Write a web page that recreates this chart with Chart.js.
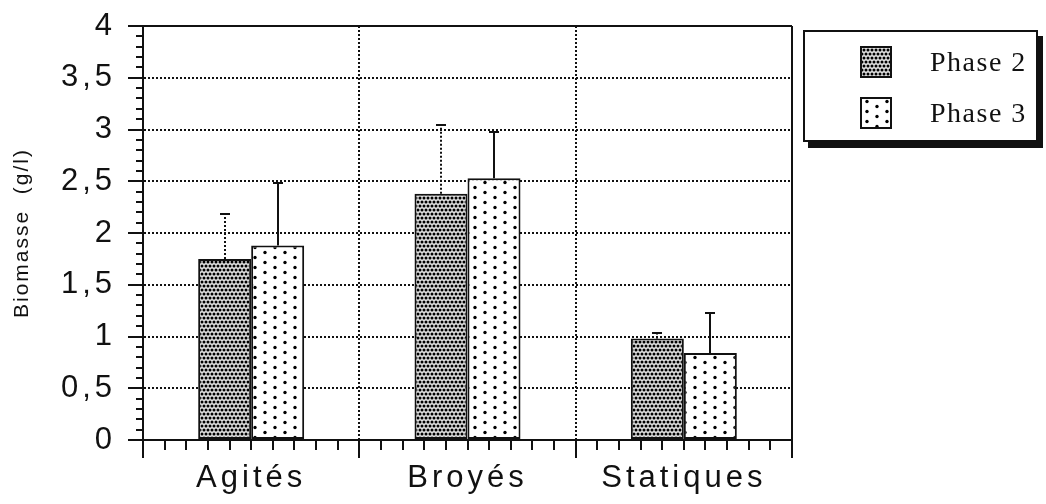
<!DOCTYPE html>
<html>
<head>
<meta charset="utf-8">
<script src="https://cdn.jsdelivr.net/npm/chart.js@4/dist/chart.umd.min.js"></script>
<style>
  html, body { margin: 0; padding: 0; background: #fff; }
  #wrap { position: relative; width: 1046px; height: 504px; }
  #c { position: absolute; left: 0; top: 0; }
  #legend {
    position: absolute; left: 803px; top: 30px; width: 235px; height: 112px;
    box-sizing: border-box; border: 2px solid #111; background: #fff;
    box-shadow: 5px 6px 0 #111;
  }
  .item { position: absolute; left: 55px; height: 30px; display: flex; align-items: center; }
  .item canvas { border: 2px solid #111; box-sizing: border-box; }
  .item span {
    font-family: "Liberation Serif", "DejaVu Serif", serif; font-size: 28px; color: #111;
    margin-left: 38px; letter-spacing: 1.5px;
  }
</style>
</head>
<body>
<div id="wrap">
  <canvas id="c" width="1046" height="504"></canvas>
  <div id="legend">
    <div class="item" style="top:15px"><canvas id="sw0" width="28" height="28"></canvas><span>Phase 2</span></div>
    <div class="item" style="top:66px"><canvas id="sw1" width="28" height="28"></canvas><span>Phase 3</span></div>
  </div>
</div>
<script>
// ---- data ----
const categories = ["Agités", "Broyés", "Statiques"];
const seriesNames = ["Phase 2", "Phase 3"];
const phase2 = [1.75, 2.38, 0.98];
const phase2Err = [0.43, 0.66, 0.05];
const phase3 = [1.88, 2.53, 0.84];
const phase3Err = [0.60, 0.45, 0.39];
const yTicks = [0, 0.5, 1, 1.5, 2, 2.5, 3, 3.5, 4];
const yTitle = "Biomasse  (g/l)";

// ---- patterns ----
function densePattern(ctx) {
  const t = document.createElement('canvas'); t.width = 8; t.height = 8;
  const g = t.getContext('2d');
  g.fillStyle = '#e0e0e0'; g.fillRect(0, 0, 8, 8);
  g.fillStyle = '#000';
  const pts = [[2,2],[6,2],[0,6],[4,6],[8,6]];
  pts.forEach(p => { g.beginPath(); g.arc(p[0], p[1], 1.5, 0, Math.PI*2); g.fill(); });
  return ctx.createPattern(t, 'repeat');
}
function sparsePattern(ctx) {
  const t = document.createElement('canvas'); t.width = 20; t.height = 10;
  const g = t.getContext('2d');
  g.fillStyle = '#fff'; g.fillRect(0, 0, 20, 10);
  g.fillStyle = '#000';
  const pts = [[5,2.5],[15,7.5]];
  pts.forEach(p => { g.beginPath(); g.arc(p[0], p[1], 1.7, 0, Math.PI*2); g.fill(); });
  return ctx.createPattern(t, 'repeat');
}

const canvas = document.getElementById('c');
const ctx = canvas.getContext('2d');
const pat2 = densePattern(ctx);
const pat3 = sparsePattern(ctx);

// legend swatches
[['sw0', densePattern], ['sw1', sparsePattern]].forEach(([id, fn]) => {
  const c = document.getElementById(id); const g = c.getContext('2d');
  g.fillStyle = fn(g); g.fillRect(0, 0, c.width, c.height);
});

const INK = '#111';
const FONT = "'Liberation Sans', Arial, sans-serif";

const decorPlugin = {
  id: 'decor',
  afterUpdate(chart) {
    const y = chart.scales.y;
    if (y && !y._lsPatched) {
      const orig = y.drawTitle.bind(y);
      y.drawTitle = function () {
        const c = chart.ctx; const prev = c.letterSpacing;
        c.letterSpacing = '2px'; orig(); c.letterSpacing = prev;
      };
      y._lsPatched = true;
    }
  },
  beforeDraw(chart) {
    chart.ctx.letterSpacing = '4px';
  },
  afterDatasetsDraw(chart) {
    const c = chart.ctx;
    const { x, y } = chart.scales;
    const area = chart.chartArea;
    const errs = [phase2Err, phase3Err];
    const vals = [phase2, phase3];
    c.save();
    c.letterSpacing = '0px';
    // error bars
    errs.forEach((err, d) => {
      const meta = chart.getDatasetMeta(d);
      meta.data.forEach((bar, i) => {
        const top = Math.round(y.getPixelForValue(vals[d][i] + err[i]));
        const px = Math.round(bar.x);
        c.strokeStyle = INK;
        c.lineWidth = 2;
        c.setLineDash(d === 0 ? [2, 2] : []);
        c.beginPath(); c.moveTo(px, bar.y); c.lineTo(px, top); c.stroke();
        c.setLineDash([]);
        c.beginPath(); c.moveTo(px - 5, top); c.lineTo(px + 5, top); c.stroke();
      });
    });
    // frame: top and right
    c.strokeStyle = INK; c.lineWidth = 2;
    c.beginPath(); c.moveTo(area.left - 15, area.top); c.lineTo(area.right, area.top); c.stroke();
    c.beginPath(); c.moveTo(area.right, area.top); c.lineTo(area.right, area.bottom + 18); c.stroke();
    // minor y ticks
    for (let k = 1; k < 40; k++) {
      if (k % 5 === 0) continue;
      const py = Math.round(y.getPixelForValue(k / 10));
      c.beginPath(); c.moveTo(area.left - 7, py); c.lineTo(area.left, py); c.stroke();
    }
    // minor x ticks
    const w = x.getPixelForValue(1) - x.getPixelForValue(0);
    categories.forEach((_, i) => {
      const left = x.getPixelForValue(i) - w / 2;
      for (let k = 1; k < 10; k++) {
        const px = Math.round(left + k * w / 10);
        c.beginPath(); c.moveTo(px, area.bottom); c.lineTo(px, area.bottom + 10); c.stroke();
      }
    });
    c.restore();
  }
};

new Chart(canvas, {
  type: 'bar',
  data: {
    labels: categories,
    datasets: [
      { label: seriesNames[0], data: phase2, backgroundColor: pat2, borderColor: INK, borderWidth: 2, borderSkipped: false },
      { label: seriesNames[1], data: phase3, backgroundColor: pat3, borderColor: INK, borderWidth: 2, borderSkipped: false }
    ]
  },
  options: {
    responsive: false,
    animation: false,
    devicePixelRatio: 1,
    layout: { padding: { left: 0, top: 26, right: 254, bottom: 0 } },
    plugins: { legend: { display: false }, tooltip: { enabled: false } },
    datasets: { bar: { categoryPercentage: 0.49, barPercentage: 1.0 } },
    scales: {
      x: {
        grid: { offset: true, color: INK, lineWidth: 2, tickLength: 18, tickColor: INK, tickWidth: 2 },
        border: { display: true, color: INK, width: 2, dash: [2, 2] },
        ticks: { color: INK, font: { family: FONT, size: 31 }, padding: 2, maxRotation: 0 },
        afterFit(s) { s.height = 64; s.paddingLeft = 0; s.paddingRight = 0; }
      },
      y: {
        min: 0, max: 4,
        afterBuildTicks(s) { s.ticks = yTicks.map(v => ({ value: v })); },
        grid: { color: INK, lineWidth: 2, tickLength: 15, tickColor: INK, tickWidth: 2 },
        border: { display: true, color: INK, width: 2, dash: [2, 2] },
        ticks: { color: INK, font: { family: FONT, size: 31 }, padding: 12,
                 callback: v => String(v).replace('.', ',') },
        title: { display: true, text: yTitle, color: INK, padding: { top: 10, bottom: 0 },
                 font: { family: FONT, size: 21 } },
        afterFit(s) { s.width = 143; s.paddingTop = 0; s.paddingBottom = 0; }
      }
    }
  },
  plugins: [decorPlugin]
});
</script>
</body>
</html>
